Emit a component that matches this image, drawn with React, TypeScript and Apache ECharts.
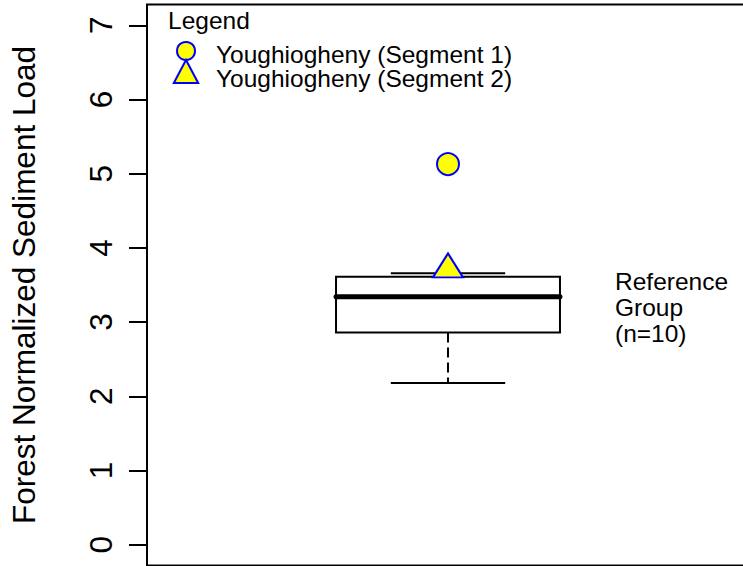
import React, { useEffect, useRef } from "react";
import * as echarts from "echarts";

// ---- data ----
const yTicks = [0, 1, 2, 3, 4, 5, 6, 7];
const groupPositions = [1];
// lower whisker, Q1, median, Q3, upper whisker
const boxLow = [2.18];
const boxQ1 = [2.86];
const boxMedian = [3.34];
const boxQ3 = [3.61];
const boxHigh = [3.66];
const segmentNames = ["Youghiogheny (Segment 1)", "Youghiogheny (Segment 2)"];
const segmentValues = [5.13, 3.71];
const groupLabelLines = ["Reference", "Group", "(n=10)"];
const yTitle = "Forest Normalized Sediment Load";
const legendTitle = "Legend";

// ---- style constants ----
const FONT = "'Liberation Sans', Arial, Helvetica, sans-serif";
const BOX_HALF = 0.186;
const CAP_HALF = 0.095;
const YELLOW = "#ffff00";
const BLUE = "#0000ff";
const TEXT_SIZE = 24.5;

export default function App() {
  const ref = useRef<HTMLDivElement>(null);

  useEffect(() => {
    if (!ref.current) return;
    const chart = echarts.init(ref.current, null, { renderer: "svg" });

    const boxData = groupPositions.map((x, i) => [
      x,
      boxLow[i],
      boxQ1[i],
      boxMedian[i],
      boxQ3[i],
      boxHigh[i],
    ]);

    const option: any = {
      animation: false,
      backgroundColor: "#ffffff",
      textStyle: { fontFamily: FONT, color: "#000" },
      grid: {
        left: 147,
        top: 4.5,
        width: 602,
        height: 561,
        show: true,
        borderColor: "#000",
        borderWidth: 2,
        backgroundColor: "transparent",
        containLabel: false,
        outerBoundsMode: "none",
      },
      xAxis: {
        type: "value",
        min: 0.5,
        max: 1.5,
        show: false,
      },
      yAxis: {
        type: "value",
        min: -0.28,
        max: 7.28,
        name: yTitle,
        nameLocation: "middle",
        nameRotate: 90,
        nameGap: 107,
        nameTextStyle: { fontSize: 31.5, color: "#000", fontFamily: FONT },
        axisLine: { show: false },
        splitLine: { show: false },
        axisTick: {
          show: true,
          customValues: yTicks,
          length: 18,
          lineStyle: { color: "#000", width: 2 },
        },
        axisLabel: {
          show: true,
          customValues: yTicks,
          rotate: 90,
          fontSize: 31.5,
          color: "#000",
          fontFamily: FONT,
          margin: 30,
        },
      },
      series: [
        {
          type: "custom",
          name: "Reference Group",
          coordinateSystem: "cartesian2d",
          data: boxData,
          encode: { x: 0, y: [1, 2, 3, 4, 5] },
          z: 2,
          renderItem: (params: any, api: any) => {
            const x = api.value(0);
            const low = api.value(1);
            const q1 = api.value(2);
            const med = api.value(3);
            const q3 = api.value(4);
            const high = api.value(5);
            const tl = api.coord([x - BOX_HALF, q3]);
            const br = api.coord([x + BOX_HALF, q1]);
            const mL = api.coord([x - BOX_HALF, med]);
            const mR = api.coord([x + BOX_HALF, med]);
            const c = api.coord([x, med]);
            const pLow = api.coord([x, low]);
            const pHigh = api.coord([x, high]);
            const pQ1 = api.coord([x, q1]);
            const pQ3 = api.coord([x, q3]);
            const capL = api.coord([x - CAP_HALF, low]);
            const capR = api.coord([x + CAP_HALF, low]);
            const capHL = api.coord([x - CAP_HALF, high]);
            const capHR = api.coord([x + CAP_HALF, high]);
            const lineStyle = { stroke: "#000", lineWidth: 2 };
            return {
              type: "group",
              children: [
                {
                  type: "line",
                  shape: { x1: c[0], y1: pQ3[1], x2: c[0], y2: pHigh[1] },
                  style: { ...lineStyle, lineDash: [10, 5] },
                },
                {
                  type: "line",
                  shape: { x1: c[0], y1: pQ1[1], x2: c[0], y2: pLow[1] },
                  style: { ...lineStyle, lineDash: [10, 5] },
                },
                {
                  type: "line",
                  shape: { x1: capL[0], y1: capL[1], x2: capR[0], y2: capR[1] },
                  style: lineStyle,
                },
                {
                  type: "line",
                  shape: { x1: capHL[0], y1: capHL[1], x2: capHR[0], y2: capHR[1] },
                  style: lineStyle,
                },
                {
                  type: "rect",
                  shape: {
                    x: tl[0],
                    y: tl[1],
                    width: br[0] - tl[0],
                    height: br[1] - tl[1],
                  },
                  style: { fill: "#fff", stroke: "#000", lineWidth: 2 },
                },
                {
                  type: "line",
                  shape: { x1: mL[0], y1: mL[1], x2: mR[0], y2: mR[1] },
                  style: { stroke: "#000", lineWidth: 5, lineCap: "round" },
                },
              ],
            };
          },
        },
        {
          type: "scatter",
          name: segmentNames[0],
          data: [[groupPositions[0], segmentValues[0]]],
          symbol: "circle",
          symbolSize: 22,
          z: 5,
          itemStyle: { color: YELLOW, borderColor: BLUE, borderWidth: 2, opacity: 1 },
        },
        {
          type: "scatter",
          name: segmentNames[1],
          data: [[groupPositions[0], segmentValues[1]]],
          symbol: "triangle",
          symbolSize: [30, 24],
          symbolOffset: [0, -4],
          z: 5,
          itemStyle: { color: YELLOW, borderColor: BLUE, borderWidth: 2, opacity: 1 },
        },
      ],
      graphic: [
        {
          type: "text",
          x: 168,
          y: 20,
          style: {
            text: legendTitle,
            fontSize: TEXT_SIZE,
            fontFamily: FONT,
            fill: "#000",
            verticalAlign: "middle",
          },
        },
        {
          type: "circle",
          shape: { cx: 186, cy: 51, r: 9 },
          style: { fill: YELLOW, stroke: BLUE, lineWidth: 2 },
        },
        {
          type: "polygon",
          shape: {
            points: [
              [186, 60],
              [173.8, 83],
              [198.2, 83],
            ],
          },
          style: { fill: YELLOW, stroke: BLUE, lineWidth: 2 },
        },
        {
          type: "text",
          x: 216,
          y: 54,
          style: {
            text: segmentNames[0],
            fontSize: TEXT_SIZE,
            fontFamily: FONT,
            fill: "#000",
            verticalAlign: "middle",
          },
        },
        {
          type: "text",
          x: 216,
          y: 78.5,
          style: {
            text: segmentNames[1],
            fontSize: TEXT_SIZE,
            fontFamily: FONT,
            fill: "#000",
            verticalAlign: "middle",
          },
        },
        {
          type: "text",
          x: 615,
          y: 268.5,
          style: {
            text: groupLabelLines.join("\n"),
            fontSize: TEXT_SIZE,
            lineHeight: 26,
            fontFamily: FONT,
            fill: "#000",
            verticalAlign: "top",
          },
        },
      ],
    };

    chart.setOption(option);
    return () => {
      chart.dispose();
    };
  }, []);

  return (
    <div
      ref={ref}
      style={{ position: "absolute", left: 0, top: 0, width: 743, height: 566 }}
    />
  );
}
